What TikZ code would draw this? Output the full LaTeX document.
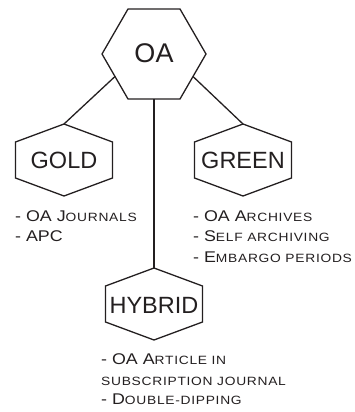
\documentclass[tikz,border=0pt]{standalone}
\usepackage{fontspec}
\setmainfont{Liberation Sans}
\newfontfamily\listfont[FakeStretch=1.15]{Liberation Sans}
\newfontfamily\listscfont[FakeStretch=1.15,LetterSpace=6]{Liberation Sans}
\newcommand\lsc[1]{{\listscfont\fontsize{12}{12}\selectfont #1}}
\usetikzlibrary{calc}
\definecolor{ink}{RGB}{35,31,32}
\newcommand\pointyhex[1]{%
  \draw[hexline] ($(#1)+(0,-36)$) -- ($(#1)+(48.5,-18)$) -- ($(#1)+(48.5,18)$) --
    ($(#1)+(0,36)$) -- ($(#1)+(-48.5,18)$) -- ($(#1)+(-48.5,-18)$) -- cycle;}
\begin{document}
\begin{tikzpicture}[x=1pt,y=-1pt,
  hexline/.style={draw=ink,line width=1.3pt,line join=miter},
  conn/.style={draw=ink,line width=1.3pt},
  big/.style={text=ink,inner sep=0pt,font=\fontsize{23.5}{23.5}\selectfont},
  item/.style={text=ink,inner sep=0pt,anchor=base west,font=\listfont\fontsize{15.5}{15.5}\selectfont}]
\useasboundingbox (0,0) rectangle (354,412);
% hexagon centres
\coordinate (oac) at (154,54);
\coordinate (goldc) at (64,160);
\coordinate (greenc) at (243,160);
\coordinate (hybc) at (154,304);
% OA hexagon (flat top)
\draw[hexline] ($(oac)+(-52,0)$) -- ($(oac)+(-26,-45)$) -- ($(oac)+(26,-45)$) --
  ($(oac)+(52,0)$) -- ($(oac)+(26,45)$) -- ($(oac)+(-26,45)$) -- cycle;
\pointyhex{goldc}
\pointyhex{greenc}
\pointyhex{hybc}
% labels
\node[big,font=\fontsize{27}{27}\selectfont] (oa) at (154,53) {OA};
\node[big] (gold) at (64,160) {GOLD};
\node[big] (green) at (243,160) {GREEN};
\node[big] (hybrid) at (154,305) {HYBRID};
% connector end points
\coordinate (oall) at ($(oac)+(-39,22.5)$);
\coordinate (oalr) at ($(oac)+(39,22.5)$);
\coordinate (oabot) at ($(oac)+(0,45)$);
\coordinate (goldtop) at ($(goldc)+(0,-36)$);
\coordinate (greentop) at ($(greenc)+(0,-36)$);
\coordinate (hybtop) at ($(hybc)+(0,-36)$);
\draw[conn] (oall) -- (goldtop);
\draw[conn] (oalr) -- (greentop);
\draw[conn] (oabot) -- (hybtop);
% lists
\node[item] (g1) at (15,221) {- OA J\lsc{OURNALS}};
\node[item] (g2) at (15,241.5) {- APC};
\node[item] (r1) at (193,221) {- OA A\lsc{RCHIVES}};
\node[item] (r2) at (193,241.5) {- S\lsc{ELF ARCHIVING}};
\node[item] (r3) at (193,262.5) {- E\lsc{MBARGO PERIODS}};
\node[item] (h1) at (101,364) {- OA A\lsc{RTICLE IN}};
\node[item] (h2) at (101,385) {\lsc{SUBSCRIPTION JOURNAL}};
\node[item] (h3) at (101,404.5) {- D\lsc{OUBLE-DIPPING}};
\end{tikzpicture}
\end{document}
